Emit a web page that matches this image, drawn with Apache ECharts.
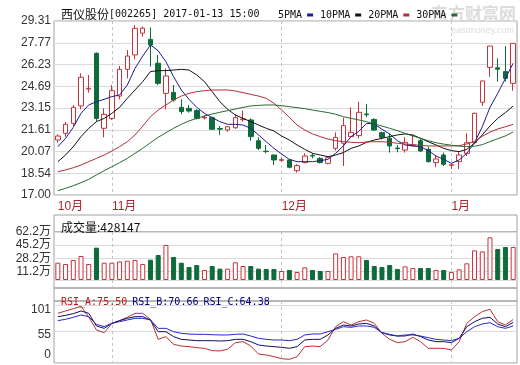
<!DOCTYPE html>
<html><head><meta charset="utf-8">
<script src="https://cdn.jsdelivr.net/npm/echarts@6/dist/echarts.min.js"></script>
<style>html,body{margin:0;padding:0;background:#fff}#c{width:520px;height:365px}</style>
</head><body><div id="c"></div>
<script>
// ---- data ----
const dates = ['2016-10-21','2016-10-24','2016-10-25','2016-10-26','2016-10-27','2016-10-28','2016-10-31',
'2016-11-01','2016-11-02','2016-11-03','2016-11-04','2016-11-07','2016-11-08','2016-11-09','2016-11-10','2016-11-11',
'2016-11-14','2016-11-15','2016-11-16','2016-11-17','2016-11-18','2016-11-21','2016-11-22','2016-11-23','2016-11-24','2016-11-25',
'2016-11-28','2016-11-29','2016-11-30',
'2016-12-01','2016-12-02','2016-12-05','2016-12-06','2016-12-07','2016-12-08','2016-12-09','2016-12-12','2016-12-13','2016-12-14',
'2016-12-15','2016-12-16','2016-12-19','2016-12-20','2016-12-21','2016-12-22','2016-12-23','2016-12-26','2016-12-27','2016-12-28',
'2016-12-29','2016-12-30',
'2017-01-03','2017-01-04','2017-01-05','2017-01-06','2017-01-09','2017-01-10','2017-01-11','2017-01-12','2017-01-13'];
const opens  = [20.89,21.36,22.07,23.30,24.50,27.02,21.72,22.42,24.00,25.89, 26.91,28.45,28.01,26.32,24.19,24.26,23.20,23.13,22.97,22.45,
                22.47,21.70,21.60,21.76,22.33,22.31,20.84,20.10,19.83,19.45, 19.48,18.72,19.29,19.80,19.59,19.24,20.30,20.66,21.13,21.20,
                22.73,22.35,21.41,21.01,20.32,20.18,20.50,20.84,20.23,19.29, 19.83,19.10,19.36,19.95,20.70,23.56,26.03,26.00,25.73,24.90];
const closes = [21.17,22.00,23.20,25.33,24.55,22.42,22.71,24.38,25.89,26.83, 28.79,28.80,27.61,24.90,25.42,23.72,22.90,22.94,22.42,22.50,
                21.65,21.66,21.83,22.47,22.38,21.13,20.30,20.07,19.48,19.50, 18.96,19.08,19.76,19.76,19.29,19.64,21.08,21.91,21.43,22.85,
                22.68,21.60,21.08,20.47,20.28,20.73,20.54,20.11,19.36,19.55, 19.17,19.14,19.83,20.70,22.78,25.07,27.54,25.90,25.25,27.73];
const lows   = [20.70,21.13,21.88,23.06,24.24,22.19,21.08,22.31,23.77,25.25, 26.60,28.20,26.08,24.78,23.06,23.60,22.71,22.83,22.35,22.35,
                21.60,21.25,21.48,21.67,22.19,20.84,20.18,19.95,19.12,19.36, 18.89,18.58,19.24,19.59,19.24,19.17,20.14,19.05,21.08,21.01,
                22.50,21.55,20.94,20.00,20.02,20.00,20.42,20.07,19.31,18.96, 19.05,18.84,18.84,19.76,20.66,23.30,25.37,25.02,25.02,24.38];
const highs  = [21.29,22.17,23.37,25.61,25.49,27.09,23.13,24.78,26.13,27.26, 29.03,28.91,28.86,26.91,25.96,24.78,23.77,23.37,23.06,22.66,
                22.54,21.88,21.88,22.71,22.97,22.42,21.08,20.54,19.83,19.67, 19.52,19.19,19.95,19.95,19.67,19.76,21.43,22.47,23.20,23.60,
                23.44,22.42,21.48,21.36,20.54,21.08,21.25,21.01,20.42,19.83, 20.00,19.24,20.07,21.36,22.83,25.07,27.54,26.67,27.54,27.73];
// volume in 万 shares
const volumes = [22.4,20.7,25.9,31.1,20.7,41.9,22.4,22.4,24.0,24.9, 25.9,20.7,26.3,32.4,45.4,29.8,22.4,16.8,19.4,13.0,
                 18.1,14.7,14.7,22.9,18.1,18.1,14.7,14.3,14.3,11.7, 13.0,10.4,16.4,13.0,11.7,11.7,34.5,29.8,30.7,30.7,
                 25.9,18.1,16.8,19.4,14.3,17.7,15.5,15.5,15.5,13.0, 13.0,10.4,13.8,21.6,38.4,37.1,55.3,40.2,42.8,42.8147];
const ma5  = [20.42,21.01,21.79,22.78,23.37,23.60,23.77,23.96,24.08,24.78, 25.96,26.83,27.61,27.21,26.43,25.37,24.43,23.77,23.20,22.78,
              22.47,22.19,22.00,22.00,21.95,21.72,21.25,20.77,20.30,19.90, 19.52,19.36,19.36,19.36,19.43,19.52,19.95,20.47,21.13,21.50,
              22.07,22.02,21.65,21.32,20.84,20.54,20.47,20.42,20.14,19.76, 19.52,19.24,19.48,19.95,20.70,21.83,23.20,24.19,25.25,26.32];
const ma10 = [19.36,19.83,20.42,21.13,21.72,22.19,22.42,22.78,23.20,23.84, 24.43,25.02,25.73,25.80,25.80,25.84,25.89,25.84,25.49,25.02,
              24.31,23.60,23.06,22.66,22.42,22.19,21.95,21.72,21.53,21.17, 20.89,20.54,20.23,19.95,19.83,19.71,19.83,20.00,20.30,20.47,
              20.73,20.89,21.01,21.13,21.25,21.32,21.25,21.01,20.77,20.54, 20.30,20.14,20.07,20.23,20.66,21.25,21.88,22.42,22.83,23.30];
const ma20 = [18.65,18.77,18.93,19.12,19.36,19.59,19.83,20.11,20.42,20.77, 21.25,21.88,22.54,23.01,23.37,23.72,24.00,24.19,24.31,24.38,
              24.43,24.43,24.43,24.36,24.24,24.12,24.00,23.84,23.49,23.01, 22.50,21.95,21.60,21.32,21.13,20.96,20.84,20.77,20.73,20.70,
              20.75,20.77,20.77,20.73,20.66,20.61,20.56,20.51,20.47,20.47, 20.47,20.47,20.49,20.61,20.80,21.15,21.45,21.67,21.83,22.00];
const ma30 = [17.31,17.47,17.66,17.87,18.11,18.42,18.72,19.00,19.29,19.59, 19.95,20.30,20.70,21.08,21.41,21.72,22.00,22.24,22.42,22.59,
              22.73,22.85,22.97,23.08,23.20,23.30,23.34,23.37,23.37,23.32, 23.25,23.18,23.11,23.01,22.92,22.83,22.71,22.54,22.42,22.31,
              22.19,22.02,21.88,21.72,21.55,21.36,21.17,21.01,20.84,20.70, 20.60,20.52,20.46,20.42,20.45,20.56,20.78,20.98,21.18,21.46];
const rsiA = [86.3,90.4,94.4,98.5,80.0,57.3,52.7,68.9,73.6,79.4, 86.3,86.3,75.9,41.1,45.8,32.4,29.5,28.4,26.6,25.5,
              21.4,20.9,23.7,35.3,37.1,29.5,15.6,13.9,11.0,7.5, 6.4,11.0,28.4,29.5,28.4,40.0,63.1,71.8,66.0,71.8,
              74.7,68.9,51.5,41.1,35.3,37.1,44.6,37.1,25.5,25.5, 25.5,22.6,37.1,68.9,80.5,89.2,93.3,71.8,66.0,75.50];
const rsiB = [80.5,82.8,85.7,90.4,86.3,64.3,60.2,68.9,73.6,77.6, 80.5,80.5,74.7,54.4,54.4,45.8,41.1,40.0,38.8,38.8,
              38.8,38.2,38.8,41.1,41.1,37.1,31.3,29.5,28.4,27.2, 25.5,28.4,40.0,41.1,41.1,48.7,60.2,66.0,64.3,67.8,
              68.9,64.3,52.7,48.7,46.9,46.9,50.4,45.8,40.0,37.1, 37.1,35.3,42.9,63.1,71.8,77.6,79.4,67.8,63.1,70.66];
const rsiC = [73.6,75.9,79.4,83.4,80.5,67.2,63.1,68.9,71.8,74.7, 77.6,77.6,74.7,60.2,60.2,54.4,51.5,50.4,49.8,49.8,
              49.2,48.7,48.7,49.8,50.4,46.9,42.9,41.1,40.0,40.0, 38.8,41.1,48.7,50.4,50.4,54.4,58.5,63.1,62.0,64.3,
              64.3,62.0,52.7,49.8,46.9,48.7,48.7,46.9,44.0,41.1, 40.0,38.8,42.9,54.4,63.1,67.8,70.1,63.1,60.2,64.38];
const priceTicks = [17.00,18.54,20.07,21.61,23.15,24.69,26.23,27.77,29.31];
const volTicks = [0,11.2,28.2,45.2,62.2];
const rsiTicks = [0,55,101];
const monthStarts = [0,7,29,51];
const monthLabels = ['10月','11月','12月','1月'];
const stockTitle = '西仪股份';
const stockCode = '[002265] 2017-01-13 15:00';

// ---- chart ----
const chart = echarts.init(document.getElementById('c'), null, {renderer:'canvas'});
const FONT = '"Liberation Sans","Noto Sans CJK SC",sans-serif';
const MONO = '"DejaVu Sans Mono","Liberation Mono",monospace';
const CJK = '"Noto Sans CJK SC"';
const RED = '#c8323c', GREEN = '#0e6b3a', BORDER = '#a0a0a0', GRIDC = '#dadada';
const L = 54, R = 3;
const n = dates.length;
const candleData = dates.map((d,i)=>[opens[i],closes[i],lows[i],highs[i]]);
const volData = volumes.map((v,i)=>({value:v, itemStyle: closes[i]>=opens[i]
  ? {color:'#fff',borderColor:RED,borderWidth:1} : {color:GREEN,borderColor:GREEN,borderWidth:1}}));
const splitIdx = monthStarts.slice(1);

function overlay(g){ return {type:'value',gridIndex:g,min:-0.5,max:n-0.5,position:'top',
  axisLine:{show:false},axisLabel:{show:false},axisTick:{show:false,customValues:splitIdx},
  splitLine:{show:true,lineStyle:{color:'#c4c4c4',type:[3,3],width:1}}}; }
function cat(g, labels){ return {type:'category',gridIndex:g,data:dates,boundaryGap:true,
  axisLine:{show:false},axisTick:{show:false},splitLine:{show:false},
  axisLabel: labels ? {show:true,interval:(i)=>monthStarts.indexOf(i)>=0,
      formatter:(v,i)=>monthLabels[monthStarts.indexOf(i)],align:'left',margin:6,
      color:'#a3262a',fontSize:12,fontFamily:FONT} : {show:false}}; }
function dummy(g){ return {type:'value',gridIndex:g,show:false,min:0,max:1}; }

const lineS = (name,data,color,xi,yi)=>({name,type:'line',data,xAxisIndex:xi,yAxisIndex:yi,symbol:'none',
  lineStyle:{width:1,color},itemStyle:{color},z:3});
const txt = (ff,fs,color)=>({fontFamily:ff,fontSize:fs,fontWeight:'normal',color});

const option = {
  animation:false,
  backgroundColor:'#fff',
  title:[
    {text:'{c|'+stockTitle+'}{a|'+stockCode+'}',left:56,top:3,
     textStyle:{fontWeight:'normal',rich:{c:txt(CJK,12,'#111'),a:txt(MONO,10,'#111')}}},
    {text:'成交量:'+Math.round(volumes[n-1]*10000),left:56,top:216,
     textStyle:{fontFamily:CJK,fontSize:12,fontWeight:'normal',color:'#111'}},
    {text:'{a|RSI_A:'+rsiA[n-1].toFixed(2)+'} {b|RSI_B:'+rsiB[n-1].toFixed(2)+'} {c|RSI_C:'+rsiC[n-1].toFixed(2)+'}',left:56,top:288,
     textStyle:{fontWeight:'normal',rich:{a:txt(MONO,10,'#c01818'),b:txt(MONO,10,'#000080'),c:txt(MONO,10,'#000080')}}}
  ],
  legend:{data:['5PMA','10PMA','20PMA','30PMA'],left:273,top:5,icon:'rect',itemWidth:6,itemHeight:3,itemGap:7,align:'right',
    textStyle:{fontFamily:MONO,fontSize:10,color:'#111'},selectedMode:false},
  graphic:[
    {type:'text',right:4,top:5,style:{text:'东方财富网',fontFamily:CJK,fontSize:17,fontWeight:'bold',fill:'#dcdcdc'}},
    {type:'text',right:6,top:26,style:{text:'eastmoney.com',fontFamily:FONT,fontSize:9,fill:'#dcdcdc'}}
  ],
  grid:[
    {left:L,right:R,top:21,height:174,show:true,borderColor:BORDER,borderWidth:1},
    {left:L,right:R,top:215,height:17,show:true,borderColor:BORDER,borderWidth:1},
    {left:L,right:R,top:232,height:56,show:true,borderColor:BORDER,borderWidth:1},
    {left:L,right:R,top:288,height:13,show:true,borderColor:BORDER,borderWidth:1},
    {left:L,right:R,top:301,height:62,show:true,borderColor:BORDER,borderWidth:1}
  ],
  xAxis:[ cat(0,true), overlay(0), dummy(1), cat(2,false), overlay(2), dummy(3), cat(4,false), overlay(4) ],
  yAxis:[
    {type:'value',gridIndex:0,min:17,max:29.31,axisLine:{show:false},axisTick:{show:false,customValues:priceTicks},
     axisLabel:{customValues:priceTicks,formatter:v=>v.toFixed(2),color:'#333',fontSize:12,fontFamily:FONT,margin:3},
     splitLine:{show:true,lineStyle:{color:GRIDC,width:1}}},
    dummy(1),
    {type:'value',gridIndex:2,min:-10.37,max:62.2,axisLine:{show:false},axisTick:{show:false,customValues:volTicks},
     axisLabel:{customValues:volTicks,formatter:v=>v===0?'0':v.toFixed(1)+'万',color:'#333',fontSize:12,fontFamily:FONT,margin:3},
     splitLine:{show:true,lineStyle:{color:GRIDC,width:1}}},
    dummy(3),
    {type:'value',gridIndex:4,min:0,max:107.7,axisLine:{show:false},axisTick:{show:false,customValues:rsiTicks},
     axisLabel:{customValues:rsiTicks,margin:3,color:'#333',fontSize:12,fontFamily:FONT,
       formatter:v=>v===0?'{z|0}':(v===101?'{t|101}':'{m|'+v+'}'),
       rich:{z:{padding:[0,0,16,0],fontSize:12,fontFamily:FONT,color:'#333'},
             t:{padding:[10,0,0,0],fontSize:12,fontFamily:FONT,color:'#333'},
             m:{padding:[6,0,0,0],fontSize:12,fontFamily:FONT,color:'#333'}}},
     splitLine:{show:true,lineStyle:{color:GRIDC,width:1}}}
  ],
  series:[
    {name:'K',type:'candlestick',data:candleData,xAxisIndex:0,yAxisIndex:0,barWidth:5,z:2,
     itemStyle:{color:'#fff',color0:GREEN,borderColor:RED,borderColor0:GREEN,borderWidth:1}},
    lineS('5PMA',ma5,'#1c1c8c',0,0),
    lineS('10PMA',ma10,'#111111',0,0),
    lineS('20PMA',ma20,'#b03038',0,0),
    lineS('30PMA',ma30,'#2a6a30',0,0),
    {name:'VOL',type:'bar',data:volData,xAxisIndex:3,yAxisIndex:2,barWidth:5},
    lineS('RSI_A',rsiA,'#b83030',6,4),
    lineS('RSI_B',rsiB,'#101060',6,4),
    lineS('RSI_C',rsiC,'#2828c8',6,4)
  ]
};
chart.setOption(option);
</script></body></html>
